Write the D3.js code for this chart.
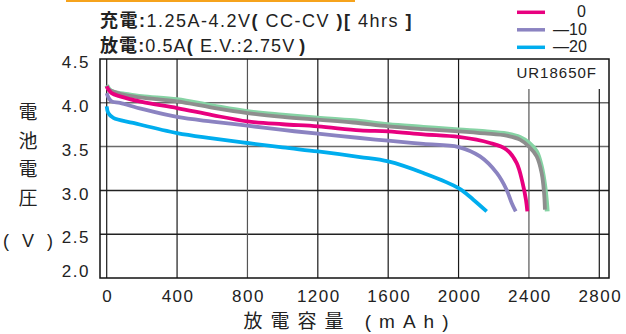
<!DOCTYPE html>
<html><head><meta charset="utf-8">
<script src="https://cdn.jsdelivr.net/npm/d3@7"></script>
<style>body{margin:0;background:#fff}svg{display:block}</style>
</head><body><svg id="c" width="626" height="334"></svg>
<script>
// ---- data ----
const xTicks = [0,400,800,1200,1600,2000,2400,2800];
const yTicks = [2.0,2.5,3.0,3.5,4.0,4.5];
const legendLabels = ["0","—10","—20"];
const greenCap = [0,15,40,100,200,400,600,800,1000,1200,1400,1600,1800,2000,2150,2273,2349,2400,2444,2472,2490,2500,2504];
const greenV   = [4.20,4.15,4.12,4.10,4.07,4.035,3.965,3.90,3.86,3.826,3.795,3.75,3.72,3.69,3.67,3.645,3.605,3.54,3.44,3.26,3.05,2.86,2.76];
const grayCap  = [0,15,38,100,200,400,600,800,1000,1200,1400,1600,1800,2000,2150,2273,2349,2400,2444,2472,2486,2491];
const grayV    = [4.19,4.15,4.13,4.09,4.06,4.016,3.945,3.883,3.84,3.807,3.775,3.731,3.70,3.674,3.65,3.624,3.579,3.50,3.388,3.20,2.97,2.78];
const pinkCap  = [0,10,28,76,200,400,600,800,1000,1200,1440,1600,1800,2000,2179,2273,2330,2364,2383,2391];
const pinkV    = [4.19,4.15,4.11,4.073,4.01,3.94,3.86,3.788,3.755,3.731,3.685,3.674,3.64,3.61,3.541,3.465,3.313,3.085,2.894,2.76];
const purpleCap= [0,10,28,76,200,400,600,800,1000,1200,1440,1600,1800,2000,2122,2217,2273,2302,2325];
const purpleV  = [4.11,4.06,4.016,3.998,3.93,3.838,3.785,3.739,3.69,3.647,3.598,3.567,3.53,3.495,3.388,3.20,3.008,2.856,2.76];
const cyanCap  = [0,9,38,151,400,600,800,1000,1200,1440,1600,1800,2000,2084,2160];
const cyanV    = [3.959,3.884,3.827,3.77,3.655,3.595,3.541,3.49,3.445,3.381,3.331,3.199,3.027,2.894,2.76];
const colors = {green:"#86d3a4", gray:"#8e8e8e", "0":"#e8007f", "-10":"#8b83c1", "-20":"#00adee"};

// ---- layout ----
const svg = d3.select("#c");
const L=100, R=609, T=59, B=278;
const x = d3.scaleLinear().domain([0,2800]).range([106.7,599.3]);
const y = d3.scaleLinear().domain([2.0,4.5]).range([B,T]);
const latin = "'Liberation Sans', Arial, sans-serif";
const cjk = "'Liberation Sans','Noto Sans CJK JP', sans-serif";

// orange bar
svg.append("rect").attr("x",66).attr("y",0).attr("width",289).attr("height",2).attr("fill","#f6a31c");

// gridlines horizontal
svg.append("g").selectAll("line").data(yTicks.filter(v=>v>2&&v<4.5)).join("line")
  .attr("x1",L).attr("x2",R).attr("y1",d=>y(d)).attr("y2",d=>y(d))
  .attr("stroke",d=>d>=3.5?"#6a6a6a":"#222").attr("stroke-width",1.5);
// gridlines vertical
svg.append("g").selectAll("line").data(xTicks).join("line")
  .attr("x1",d=>x(d)).attr("x2",d=>x(d))
  .attr("y1",d=>d>=2400?89:T).attr("y2",B)
  .attr("stroke",d=>(d===800||d===2400)?"#555":"#1a1a1a").attr("stroke-width",1.2);
// frame
svg.append("rect").attr("x",L).attr("y",T).attr("width",R-L).attr("height",B-T)
  .attr("fill","none").attr("stroke","#111").attr("stroke-width",1.5);

// curves
const series = [
  ["green", greenCap, greenV],
  ["gray", grayCap, grayV],
  ["-10", purpleCap, purpleV],
  ["0", pinkCap, pinkV],
  ["-20", cyanCap, cyanV]
];
const lineFn = d3.line().x(d=>x(d[0])).y(d=>y(d[1])).curve(d3.curveCatmullRom.alpha(0.5));
svg.append("g").selectAll("path").data(series).join("path")
  .attr("d",s=>lineFn(d3.zip(s[1],s[2])))
  .attr("fill","none").attr("stroke",s=>colors[s[0]])
  .attr("stroke-width",s=>s[0]==="green"?4.8:3.8).attr("stroke-linejoin","round");

// UR18650F label
svg.append("text").attr("x",597).attr("y",78).attr("text-anchor","end")
  .attr("font-family",latin).attr("font-size",15).attr("letter-spacing",1).attr("fill","#222").text("UR18650F");

// y tick labels
svg.append("g").selectAll("text").data(yTicks).join("text")
  .attr("x",90).attr("y",d=>Math.min(y(d)+3,B-7)).attr("dy","0.36em").attr("text-anchor","end")
  .attr("font-family",latin).attr("font-size",17).attr("letter-spacing",1.5).attr("fill","#222")
  .text(d=>d.toFixed(1));
// x tick labels
svg.append("g").selectAll("text").data(xTicks).join("text")
  .attr("x",d=>x(d)+1).attr("y",302).attr("text-anchor","middle")
  .attr("font-family",latin).attr("font-size",17).attr("letter-spacing",1.5).attr("fill","#222")
  .text(d=>d);

// axis titles
svg.append("text").attr("x",350).attr("y",328).attr("text-anchor","middle")
  .attr("font-family",cjk).attr("font-size",19).attr("letter-spacing",8).attr("fill","#222")
  .text("放電容量 (mAh)");
const yt = ["電","池","電","圧"];
svg.append("g").selectAll("text").data(yt).join("text")
  .attr("x",28).attr("y",(d,i)=>119+i*28.5).attr("text-anchor","middle")
  .attr("font-family",cjk).attr("font-size",19).attr("fill","#222").text(d=>d);
svg.append("text").attr("x",30).attr("y",247).attr("text-anchor","middle")
  .attr("font-family",latin).attr("font-size",18).attr("letter-spacing",4).attr("fill","#222").text("( V )");

// header text
const h1 = svg.append("text").attr("x",100).attr("y",27).attr("font-family",cjk).attr("font-size",18).attr("fill","#222").attr("letter-spacing",1.5);
h1.append("tspan").attr("font-weight","bold").text("充電:");
h1.append("tspan").text("1.25A-4.2V");
h1.append("tspan").attr("font-weight","bold").text("( ");
h1.append("tspan").text("CC-CV ");
h1.append("tspan").attr("font-weight","bold").text(")[ ");
h1.append("tspan").text("4hrs ");
h1.append("tspan").attr("font-weight","bold").text("]");
const h2 = svg.append("text").attr("x",100).attr("y",52).attr("font-family",cjk).attr("font-size",18).attr("fill","#222").attr("letter-spacing",1.1);
h2.append("tspan").attr("font-weight","bold").text("放電:");
h2.append("tspan").text("0.5A");
h2.append("tspan").attr("font-weight","bold").text("( ");
h2.append("tspan").text("E.V.:2.75V");
h2.append("tspan").attr("font-weight","bold").attr("dx",4).text(")");

// legend
const lg = svg.append("g");
const legKeys = ["0","-10","-20"];
lg.selectAll("line").data(legKeys).join("line")
  .attr("x1",517).attr("x2",545).attr("y1",(d,i)=>12.3+i*17.5).attr("y2",(d,i)=>12.3+i*17.5)
  .attr("stroke",d=>colors[d]).attr("stroke-width",3.5);
lg.selectAll("text").data(legendLabels).join("text")
  .attr("x",(d,i)=>i===0?577:553).attr("y",(d,i)=>17+i*17.5)
  .attr("font-family",latin).attr("font-size",16).attr("fill","#222").text(d=>d);
</script></body></html>
